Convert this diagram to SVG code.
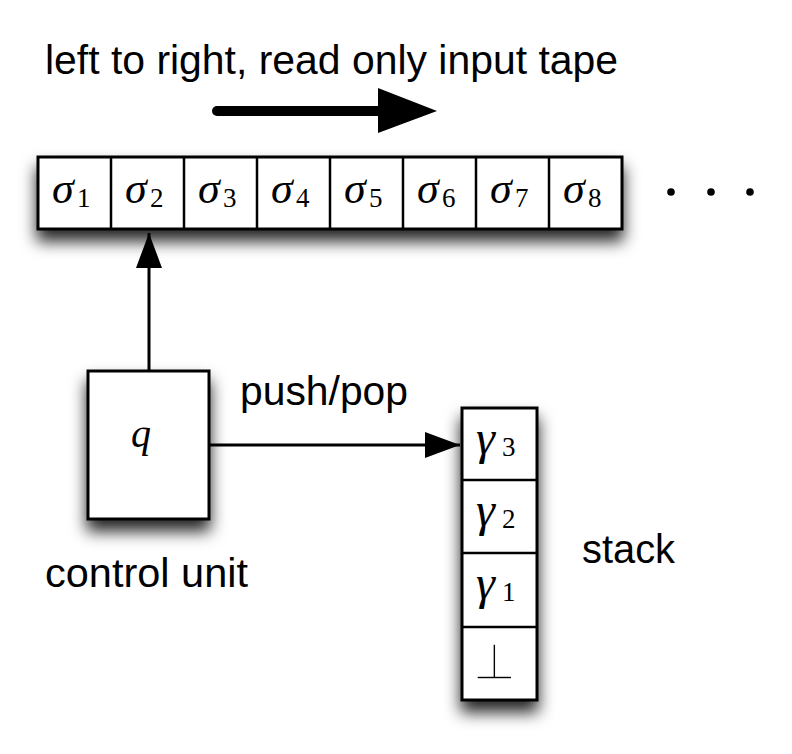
<svg xmlns="http://www.w3.org/2000/svg" width="792" height="754" viewBox="0 0 792 754">
<defs>
<filter id="sh" x="-25%" y="-30%" width="150%" height="200%">
<feDropShadow dx="0" dy="11" stdDeviation="8" flood-color="#000" flood-opacity="0.85"/>
</filter>
<marker id="ah" viewBox="0 0 35 26" refX="35" refY="13" markerWidth="35" markerHeight="26" markerUnits="userSpaceOnUse" orient="auto">
<path d="M0,0 L35,13 L0,26 Z" fill="#000"/>
</marker>
<style>
.lbl{font-family:"Liberation Sans",Arial,sans-serif;font-size:40px;fill:#000}
.box{fill:#fff;stroke:#000;stroke-width:3}
.div{stroke:#000;stroke-width:2.5}
.mi{font-family:"Liberation Serif","DejaVu Serif",serif;font-style:italic;fill:#000}
.sub{font-family:"Liberation Serif","DejaVu Serif",serif;font-size:27px;fill:#000}
.conn{stroke:#000;stroke-width:3;fill:none}
</style>
</defs>
<rect width="792" height="754" fill="#fff"/>

<text class="lbl" x="45" y="74" textLength="573" lengthAdjust="spacingAndGlyphs">left to right, read only input tape</text>

<g id="direction-arrow">
<line x1="217" y1="111" x2="382" y2="111" stroke="#000" stroke-width="10" stroke-linecap="round"/>
<path d="M378,88 L437,111 L378,133 Z" fill="#000"/>
</g>

<g id="tape">
<rect class="box" x="38" y="157" width="584" height="72" filter="url(#sh)"/>
<line class="div" x1="111" y1="157" x2="111" y2="229"/>
<line class="div" x1="184" y1="157" x2="184" y2="229"/>
<line class="div" x1="257" y1="157" x2="257" y2="229"/>
<line class="div" x1="330" y1="157" x2="330" y2="229"/>
<line class="div" x1="403" y1="157" x2="403" y2="229"/>
<line class="div" x1="476" y1="157" x2="476" y2="229"/>
<line class="div" x1="549" y1="157" x2="549" y2="229"/>
<text class="mi" x="52" y="203" font-size="44">σ</text><text class="sub" x="77" y="207">1</text>
<text class="mi" x="125" y="203" font-size="44">σ</text><text class="sub" x="150" y="207">2</text>
<text class="mi" x="198" y="203" font-size="44">σ</text><text class="sub" x="223" y="207">3</text>
<text class="mi" x="271" y="203" font-size="44">σ</text><text class="sub" x="296" y="207">4</text>
<text class="mi" x="344" y="203" font-size="44">σ</text><text class="sub" x="369" y="207">5</text>
<text class="mi" x="417" y="203" font-size="44">σ</text><text class="sub" x="442" y="207">6</text>
<text class="mi" x="490" y="203" font-size="44">σ</text><text class="sub" x="515" y="207">7</text>
<text class="mi" x="563" y="203" font-size="44">σ</text><text class="sub" x="588" y="207">8</text>
</g>

<g id="ellipsis">
<circle cx="671" cy="192" r="3.8" fill="#000"/>
<circle cx="711" cy="192" r="3.8" fill="#000"/>
<circle cx="750" cy="192" r="3.8" fill="#000"/>
</g>

<g id="control-unit">
<rect class="box" x="88" y="371" width="121" height="148" filter="url(#sh)"/>
<text class="mi" x="131" y="447" font-size="40">q</text>
</g>
<text class="lbl" x="45" y="587" textLength="203" lengthAdjust="spacingAndGlyphs">control unit</text>

<g id="stack">
<rect class="box" x="462" y="408" width="75" height="292" filter="url(#sh)"/>
<line class="div" x1="462" y1="480" x2="537" y2="480"/>
<line class="div" x1="462" y1="553" x2="537" y2="553"/>
<line class="div" x1="462" y1="627" x2="537" y2="627"/>
<text class="mi" x="476" y="454" font-size="48">γ</text><text class="sub" x="502" y="456" font-size="25">3</text>
<text class="mi" x="476" y="526" font-size="48">γ</text><text class="sub" x="502" y="528" font-size="25">2</text>
<text class="mi" x="476" y="599" font-size="48">γ</text><text class="sub" x="502" y="601" font-size="25">1</text>
<text x="494.5" y="679" font-family="'DejaVu Sans','DejaVu Serif',sans-serif" font-size="50" text-anchor="middle" fill="#000" stroke="#fff" stroke-width="1.7">⊥</text>
</g>
<text class="lbl" x="582" y="563" textLength="93" lengthAdjust="spacingAndGlyphs">stack</text>

<g id="connectors">
<line class="conn" x1="149" y1="371" x2="149" y2="233" marker-end="url(#ah)"/>
<line class="conn" x1="209" y1="445" x2="460" y2="445" marker-end="url(#ah)"/>
<text class="lbl" x="240" y="405" textLength="168" lengthAdjust="spacingAndGlyphs">push/pop</text>
</g>
</svg>
